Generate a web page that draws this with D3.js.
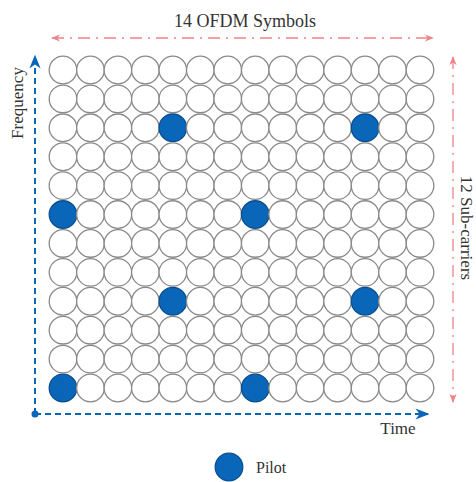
<!DOCTYPE html>
<html>
<head>
<meta charset="utf-8">
<script src="https://cdn.jsdelivr.net/npm/d3@7"></script>
<style>
  body { margin: 0; background: #fff; }
  svg text { font-family: 'Liberation Serif', 'DejaVu Serif', serif; fill: #333; }
</style>
</head>
<body>
<div id="graf"></div>
<script>
// I. Datos
simbolos = [0, 1, 2, 3, 4, 5, 6, 7, 8, 9, 10, 11, 12, 13]
subportadoras = [0, 1, 2, 3, 4, 5, 6, 7, 8, 9, 10, 11]
// pilotos: [simbolo, subportadora desde arriba]
pilotos = [[4, 2], [11, 2], [0, 5], [7, 5], [4, 8], [11, 8], [0, 11], [7, 11]]
titulos = { arriba: '14 OFDM Symbols', derecha: '12 Sub-carriers', y: 'Frequency', x: 'Time', leyenda: 'Pilot' }

// II. Configuración
ancho_total = 476
alto_total = 482
azul = '#0a66b8'
rojo = '#f0828a'

svg = d3.select('#graf').append('svg')
        .attr('width', ancho_total)
        .attr('height', alto_total)

x = d3.scalePoint().domain(simbolos).range([63, 420])
y = d3.scalePoint().domain(subportadoras).range([70, 388])

defs = svg.append('defs')
function flecha(id, color) {
  defs.append('marker')
      .attr('id', id)
      .attr('viewBox', '0 0 10 10')
      .attr('refX', 9).attr('refY', 5)
      .attr('markerWidth', 7).attr('markerHeight', 7)
      .attr('orient', 'auto-start-reverse')
      .append('path')
      .attr('d', 'M0,1 L10,5 L0,9 L3,5 Z')
      .attr('fill', color)
}
flecha('fr', rojo)
flecha('fa', azul)

// III. Rejilla
celdas = []
subportadoras.forEach(f => simbolos.forEach(s => celdas.push({ s: s, f: f })))

esPiloto = d => pilotos.some(p => p[0] === d.s && p[1] === d.f)

svg.append('g').selectAll('circle')
   .data(celdas)
   .enter()
   .append('circle')
   .attr('cx', d => x(d.s))
   .attr('cy', d => y(d.f))
   .attr('r', 13.8)
   .attr('fill', d => esPiloto(d) ? azul : '#fff')
   .attr('stroke', d => esPiloto(d) ? '#0a4f8f' : '#8a8a8a')
   .attr('stroke-width', 1.3)

// IV. Flechas rojas
svg.append('line')
   .attr('x1', 52).attr('y1', 38).attr('x2', 433).attr('y2', 38)
   .attr('stroke', rojo).attr('stroke-width', 1.3)
   .attr('stroke-dasharray', '12,6,2,6')
   .attr('marker-start', 'url(#fr)').attr('marker-end', 'url(#fr)')

svg.append('line')
   .attr('x1', 453).attr('y1', 57).attr('x2', 453).attr('y2', 402)
   .attr('stroke', rojo).attr('stroke-width', 1.3)
   .attr('stroke-dasharray', '12,6,2,6')
   .attr('marker-start', 'url(#fr)').attr('marker-end', 'url(#fr)')

svg.append('text')
   .attr('x', 245).attr('y', 27)
   .attr('text-anchor', 'middle')
   .style('font-size', '18px')
   .text(titulos.arriba)

svg.append('text')
   .attr('transform', 'translate(461,228) rotate(90)')
   .attr('text-anchor', 'middle')
   .style('font-size', '17px')
   .text(titulos.derecha)

// V. Ejes azules
svg.append('line')
   .attr('x1', 35).attr('y1', 414).attr('x2', 35).attr('y2', 56)
   .attr('stroke', azul).attr('stroke-width', 2)
   .attr('stroke-dasharray', '6,4')
   .attr('marker-end', 'url(#fa)')

svg.append('line')
   .attr('x1', 35).attr('y1', 414).attr('x2', 428).attr('y2', 414)
   .attr('stroke', azul).attr('stroke-width', 2)
   .attr('stroke-dasharray', '6,4')
   .attr('marker-end', 'url(#fa)')

svg.append('circle')
   .attr('cx', 35).attr('cy', 414).attr('r', 3.5)
   .attr('fill', azul)

svg.append('text')
   .attr('transform', 'translate(23,103) rotate(-90)')
   .attr('text-anchor', 'middle')
   .style('font-size', '17px')
   .text(titulos.y)

svg.append('text')
   .attr('x', 398).attr('y', 434)
   .attr('text-anchor', 'middle')
   .style('font-size', '17px')
   .text(titulos.x)

// VI. Leyenda
svg.append('circle')
   .attr('cx', 229).attr('cy', 467).attr('r', 13.8)
   .attr('fill', azul).attr('stroke', '#0a4f8f').attr('stroke-width', 1.3)

svg.append('text')
   .attr('x', 256).attr('y', 473)
   .style('font-size', '16px')
   .text(titulos.leyenda)
</script>
</body>
</html>
